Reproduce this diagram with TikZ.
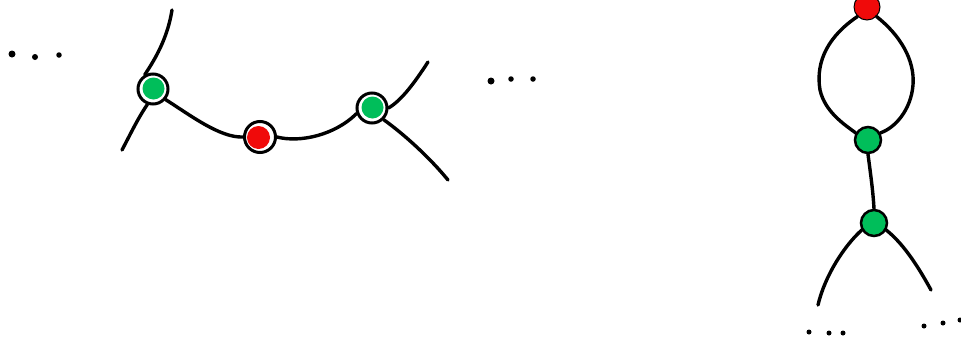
\documentclass[tikz,border=0pt]{standalone}
\definecolor{gnode}{RGB}{0,190,90}
\definecolor{rnode}{RGB}{240,10,10}
\tikzset{
  edge/.style={line width=3.4pt, line cap=round, black},
  dotm/.style={circle, fill=black, inner sep=0pt, minimum size=6pt},
  ringgreen/.style={circle, draw=black, line width=3pt, fill=white, minimum size=30pt, inner sep=0pt,
     path picture={\fill[gnode] ([xshift=0.5pt,yshift=0.5pt]path picture bounding box.center) circle (11pt);}},
  ringred/.style={circle, draw=black, line width=3pt, fill=white, minimum size=31pt, inner sep=0pt,
     path picture={\fill[rnode] ([xshift=-1.5pt,yshift=-0.5pt]path picture bounding box.center) circle (11.5pt);}},
  plaingreen/.style={circle, draw=black, line width=2.5pt, fill=gnode, minimum size=26pt, inner sep=0pt},
  plainred/.style={circle, draw=black, line width=1pt, fill=rnode, minimum size=26pt, inner sep=0pt},
}
\begin{document}
\begin{tikzpicture}[x=1pt,y=-1pt]
\useasboundingbox (0,0) rectangle (961,338);
% left dots
\node[dotm, minimum size=7pt] (d1) at (12,54) {};
\node[dotm] (d2) at (35,57) {};
\node[dotm, minimum size=5.5pt] (d3) at (59,55) {};
% middle dots
\node[dotm, minimum size=7pt] (m1) at (491,81) {};
\node[dotm, minimum size=5.5pt] (m2) at (511,79) {};
\node[dotm, minimum size=5.5pt] (m3) at (533,79) {};
% left group
\coordinate (at) at (172,10);
\coordinate (ab) at (122,150);
\coordinate (cu) at (428,62);
\coordinate (cd) at (448,180);
\node[ringgreen] (A) at (153,89) {};
\node[ringred] (B) at (260,137) {};
\node[ringgreen] (C) at (372,108) {};
\draw[edge] (at) .. controls (168,35) and (158,55) .. (A.120);
\draw[edge] (A.250) .. controls (138,118) and (130,135) .. (ab);
\draw[edge] (A.-40) .. controls (190,115) and (220,138) .. (B.180);
\draw[edge] (B.0) .. controls (300,143) and (335,135) .. (C.200);
\draw[edge] (C.0) .. controls (402,100) and (415,82) .. (cu);
\draw[edge] (C.-45) .. controls (405,135) and (430,158) .. (cd);
% right group
\coordinate (el) at (818,305);
\coordinate (er) at (931,290);
\node[plainred] (R) at (867,7) {};
\node[plaingreen] (D) at (868,140) {};
\node[plaingreen] (E) at (874,223) {};
\draw[edge] (R.225) .. controls (830,35) and (815,60) .. (820,90) .. controls (825,112) and (845,125) .. (D.150);
\draw[edge] (R.-45) .. controls (900,35) and (915,60) .. (913,85) .. controls (911,110) and (895,128) .. (D.30);
\draw[edge] (D.-90) .. controls (870,170) and (873,190) .. (E.90);
\draw[edge] (E.210) .. controls (845,245) and (825,275) .. (el);
\draw[edge] (E.-30) .. controls (905,245) and (920,270) .. (er);
% bottom dots
\node[dotm, minimum size=5pt] (b1) at (809,332) {};
\node[dotm, minimum size=5pt] (b2) at (829,333) {};
\node[dotm, minimum size=5pt] (b3) at (843,333) {};
\node[dotm, minimum size=5pt] (b4) at (924,326) {};
\node[dotm, minimum size=5pt] (b5) at (943,323) {};
\node[dotm, minimum size=5pt] (b6) at (960,320) {};
\end{tikzpicture}
\end{document}
